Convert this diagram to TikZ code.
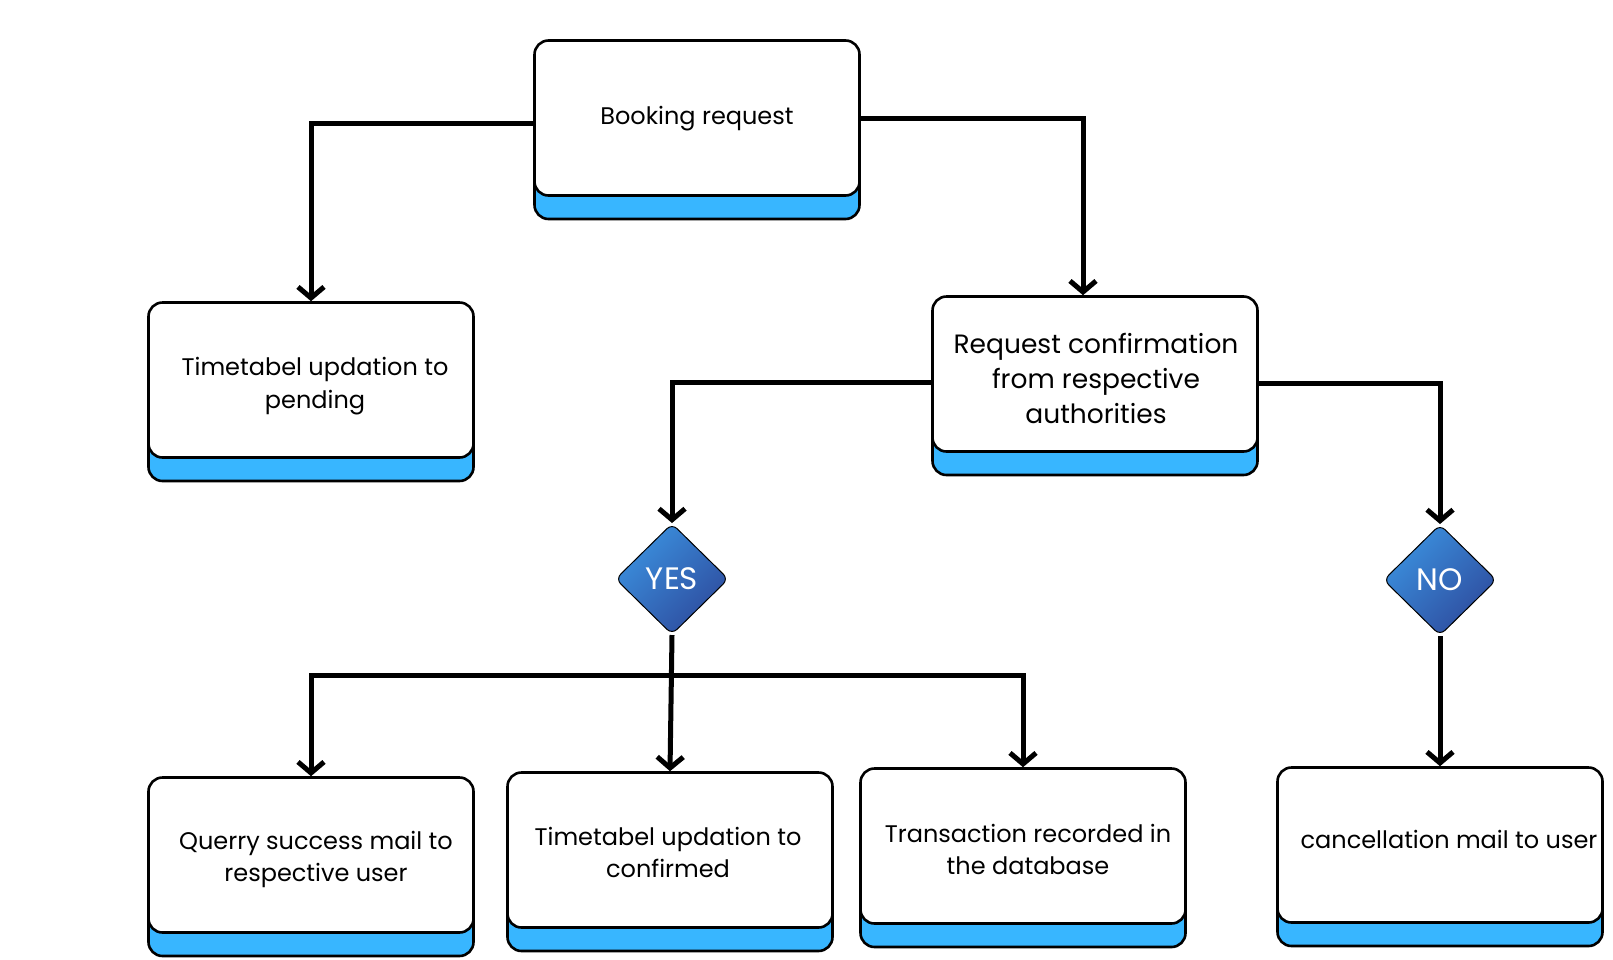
\documentclass[tikz,border=0pt]{standalone}
\usepackage{fontspec}
\setmainfont{Poppins}
\usetikzlibrary{arrows.meta,positioning,calc,shapes.geometric}
\definecolor{flowink}{HTML}{000000}
\definecolor{flowsky}{HTML}{38B6FF}
\definecolor{flowtop}{HTML}{3B90DE}
\definecolor{flowdeep}{HTML}{2E4C9E}
\tikzset{
  card/.style={draw=flowink, line width=2.6pt, fill=white, rounded corners=14pt,
    minimum width=325pt, minimum height=155pt},
  txt/.style={align=center, inner sep=0pt},
  strip/.style={draw=flowink, line width=2.6pt, fill=flowsky, rounded corners=14pt},
  dia/.style={diamond, draw=flowink, line width=1pt, rounded corners=7pt,
    minimum width=113pt, minimum height=111pt, inner sep=0pt,
    top color=flowtop, bottom color=flowdeep, shading angle=45,
    text=white, font=\fontsize{31}{34}\selectfont},
  arr/.style={-{Straight Barb[length=11pt, width=26pt]}, line width=5pt, color=flowink},
}
\begin{document}
\begin{tikzpicture}[x=1pt, y=-1pt]
  \useasboundingbox (0,0) rectangle (1613,959);
  % cards with their blue base, text set a little off centre
  \foreach \nm/\x/\y/\dx/\dy/\fs/\ls/\txt in {
      book/697/118/0/1/24/33/{Booking request},
      pend/311/380/4/6/24/33/{Timetabel updation to\\pending},
      conf/1095/374/1/4/26.5/35/{Request confirmation\\from respective\\authorities},
      mail/311/855/5/4/24/32/{Querry success mail to\\respective user},
      done/670/850/-2/2/24/32/{Timetabel updation to\\confirmed},
      txn/1023/846/5/3/24/32/{Transaction recorded in\\the database},
      cncl/1440/845/9/-6/24/32/{cancellation mail to user}} {
    \draw[strip] (\x-162.5,\y) rectangle (\x+162.5,\y+101);
    \node[card] (\nm) at (\x,\y) {};
    \node[txt, font=\fontsize{\fs}{\ls}\selectfont] (\nm-t) at (\x+\dx,\y+\dy) {\txt};
  }
  % decisions
  \node[dia] (yes) at (672,579) {YES};
  \node[dia] (no) at (1440,580) {NO};
  % connectors
  \draw[arr] ([yshift=-5pt]book.west) -| (pend.north);
  \draw[arr] (book.east) -| ([xshift=-12pt]conf.north);
  \draw[arr] ([yshift=-8pt]conf.west) -| (yes.north);
  \draw[arr] ([yshift=-9pt]conf.east) -| (no.north);
  \draw[arr] (yes.south) -- (done.north);
  \coordinate (fork) at ($(yes.south)!0.3!(done.north)$);
  \draw[arr] (fork) -| (mail.north);
  \draw[arr] (fork) -| (txn.north);
  \draw[arr] (no.south) -- (cncl.north);
\end{tikzpicture}
\end{document}
